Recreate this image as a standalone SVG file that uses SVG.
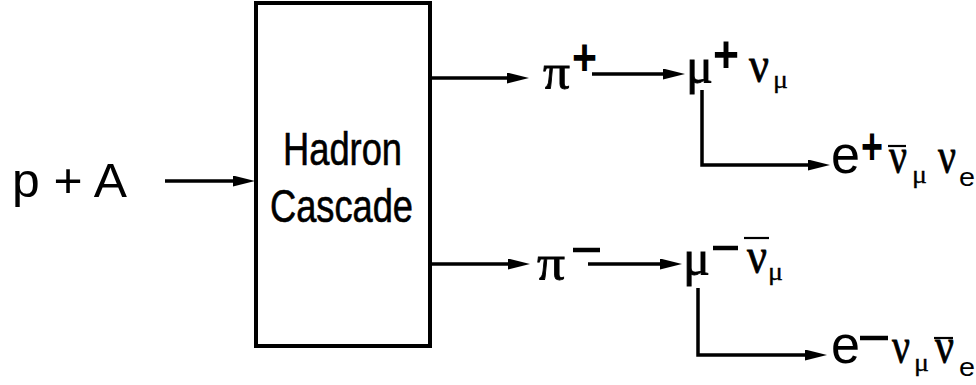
<svg xmlns="http://www.w3.org/2000/svg" width="976" height="385" viewBox="0 0 976 385">
<defs>
<style>
.ln{fill:none;stroke:#000;stroke-width:3.5}
.bar{stroke:#000;stroke-width:2.2}
.mn{stroke:#000;stroke-width:4.5}
.sans{font-family:"Liberation Sans",Arial,sans-serif;fill:#000}
.ser{font-family:"Liberation Serif","Times New Roman",serif;fill:#000;stroke:#000;stroke-width:0.8}
.big{font-size:48px}
.gr{font-size:50px}
.sup{font-size:52px;font-weight:bold}
.sub{font-size:26px;stroke-width:0.3}
.nar{font-family:"Liberation Sans Narrow","Liberation Sans",Arial,sans-serif;font-size:46px;fill:#000;stroke:#000;stroke-width:0.6}
</style>
<marker id="ah" markerUnits="userSpaceOnUse" markerWidth="22" markerHeight="11" refX="6" refY="5.5" orient="auto">
<path d="M0,0 L22,5.5 L0,11 z" fill="#000"/>
</marker>
</defs>
<rect width="976" height="385" fill="#fff"/>
<g id="connectors">
<line class="ln" x1="165" y1="181" x2="239" y2="181" marker-end="url(#ah)"/>
<line class="ln" x1="431" y1="78" x2="513" y2="78" marker-end="url(#ah)"/>
<line class="ln" x1="592" y1="74" x2="669" y2="74" marker-end="url(#ah)"/>
<path class="ln" d="M702,90 V165 H814" marker-end="url(#ah)"/>
<line class="ln" x1="431" y1="264" x2="514" y2="264" marker-end="url(#ah)"/>
<line class="ln" x1="588" y1="264" x2="666" y2="264" marker-end="url(#ah)"/>
<path class="ln" d="M698,288 V355 H811" marker-end="url(#ah)"/>
</g>
<g id="input">
<text class="sans big" x="12" y="197" textLength="115" lengthAdjust="spacingAndGlyphs">p + A</text>
</g>
<g id="cascade">
<rect x="256" y="3" width="174" height="343" fill="#fff" stroke="#000" stroke-width="4"/>
<text class="nar" x="283" y="165" textLength="119" lengthAdjust="spacingAndGlyphs">Hadron</text>
<text class="nar" x="270" y="222" textLength="143" lengthAdjust="spacingAndGlyphs">Cascade</text>
</g>
<g id="piplus">
<text class="ser gr" x="543" y="89" textLength="27" lengthAdjust="spacingAndGlyphs">π</text>
<text class="sans sup" x="572" y="75" textLength="25" lengthAdjust="spacingAndGlyphs">+</text>
</g>
<g id="muplus">
<text class="ser gr" x="686" y="83" textLength="27" lengthAdjust="spacingAndGlyphs">μ</text>
<text class="sans sup" x="713" y="72" textLength="26" lengthAdjust="spacingAndGlyphs">+</text>
<text class="ser gr" x="749" y="82" textLength="20" lengthAdjust="spacingAndGlyphs">ν</text>
<text class="ser sub" x="773" y="88" textLength="15" lengthAdjust="spacingAndGlyphs">μ</text>
</g>
<g id="eplus">
<text class="sans" font-size="54" x="831" y="173" textLength="29" lengthAdjust="spacingAndGlyphs">e</text>
<text class="sans sup" font-size="46" x="861" y="164" textLength="22" lengthAdjust="spacingAndGlyphs">+</text>
<text class="ser gr" x="889" y="173" textLength="18" lengthAdjust="spacingAndGlyphs">ν</text>
<line class="bar" x1="888" y1="146" x2="906" y2="146"/>
<text class="ser sub" x="912" y="183" textLength="15" lengthAdjust="spacingAndGlyphs">μ</text>
<text class="ser gr" x="938" y="173" textLength="18" lengthAdjust="spacingAndGlyphs">ν</text>
<text class="sans" font-size="26" x="959" y="186" textLength="16" lengthAdjust="spacingAndGlyphs">e</text>
</g>
<g id="piminus">
<text class="ser gr" x="537" y="280" textLength="28" lengthAdjust="spacingAndGlyphs" stroke-width="1.5">π</text>
<line class="mn" x1="573" y1="250" x2="600" y2="250"/>
</g>
<g id="muminus">
<text class="ser gr" x="683" y="275" textLength="27" lengthAdjust="spacingAndGlyphs">μ</text>
<line class="mn" x1="713" y1="248" x2="738" y2="248"/>
<line class="bar" x1="744" y1="238" x2="769" y2="238"/>
<text class="ser gr" x="747" y="273" textLength="20" lengthAdjust="spacingAndGlyphs">ν</text>
<text class="ser sub" x="768" y="280" textLength="15" lengthAdjust="spacingAndGlyphs">μ</text>
</g>
<g id="eminus">
<text class="sans" font-size="54" x="831" y="363" textLength="29" lengthAdjust="spacingAndGlyphs">e</text>
<line class="mn" x1="860" y1="338" x2="888" y2="338"/>
<text class="ser gr" x="892" y="363" textLength="18" lengthAdjust="spacingAndGlyphs">ν</text>
<text class="ser sub" x="914" y="371" textLength="15" lengthAdjust="spacingAndGlyphs">μ</text>
<line class="bar" x1="934" y1="338" x2="953" y2="338"/>
<text class="ser gr" x="935" y="363" textLength="19" lengthAdjust="spacingAndGlyphs">ν</text>
<text class="sans" font-size="26" x="959" y="376" textLength="16" lengthAdjust="spacingAndGlyphs">e</text>
</g>
</svg>
